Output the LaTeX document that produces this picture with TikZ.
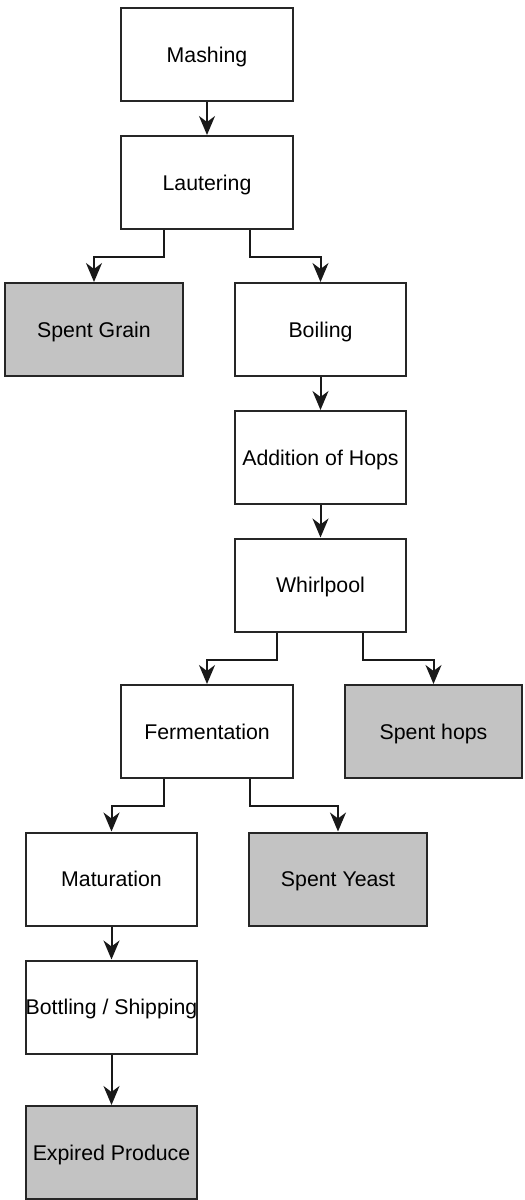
\documentclass[tikz,border=0pt]{standalone}
\usepackage{fontspec}
\setmainfont{Liberation Sans}
\usetikzlibrary{arrows.meta}
\definecolor{spent}{RGB}{195,195,195}
\begin{document}
\begin{tikzpicture}[x=1pt,y=-1pt,
  box/.style={draw=black!85, line width=2pt, fill=white, rectangle,
    minimum width=172pt, minimum height=93pt, inner sep=0pt,
    text height=15pt, text depth=0pt,
    font=\fontsize{21.3}{25}\selectfont},
  waste/.style={box, fill=spent, minimum width=178pt},
  arr/.style={line width=2pt, draw=black!90,
    -{Stealth[length=19pt,width=16pt,inset=6pt]}}]
\useasboundingbox (0,0) rectangle (525,1200);
\node[box] (mash) at (207,54.5) {Mashing};
\node[box] (laut) at (207,182.5) {Lautering};
\node[waste] (sg) at (94,329.5) {Spent Grain};
\node[box, minimum width=171pt] (boil) at (320.5,329.5) {Boiling};
\node[box, minimum width=171pt] (hops) at (320.5,457.5) {Addition of Hops};
\node[box, minimum width=171pt] (whirl) at (320.5,585) {Whirlpool};
\node[box] (ferm) at (207,731.5) {Fermentation};
\node[waste, minimum width=177pt] (sh) at (433.5,731.5) {Spent hops};
\node[box, minimum width=171pt] (mat) at (111.5,879) {Maturation};
\node[waste] (sy) at (338,879) {Spent Yeast};
\node[box, minimum width=171pt] (bot) at (111.5,1007) {Bottling / Shipping};
\node[waste, minimum width=171pt] (exp) at (111.5,1152.5) {Expired Produce};

\draw[arr] (mash) -- (laut);
\draw[arr] ([xshift=-43pt]laut.south) -- ++(0,27) -| (sg.north);
\draw[arr] ([xshift=43pt]laut.south) -- ++(0,27) -| (boil.north);
\draw[arr] (boil) -- (hops);
\draw[arr] (hops) -- (whirl);
\draw[arr] ([xshift=-43.5pt]whirl.south) -- ++(0,27) -| (ferm.north);
\draw[arr] ([xshift=42.5pt]whirl.south) -- ++(0,27) -| (sh.north);
\draw[arr] ([xshift=-43pt]ferm.south) -- ++(0,27) -| (mat.north);
\draw[arr] ([xshift=43pt]ferm.south) -- ++(0,27) -| (sy.north);
\draw[arr] (mat) -- (bot);
\draw[arr] (bot) -- (exp);
\end{tikzpicture}
\end{document}
